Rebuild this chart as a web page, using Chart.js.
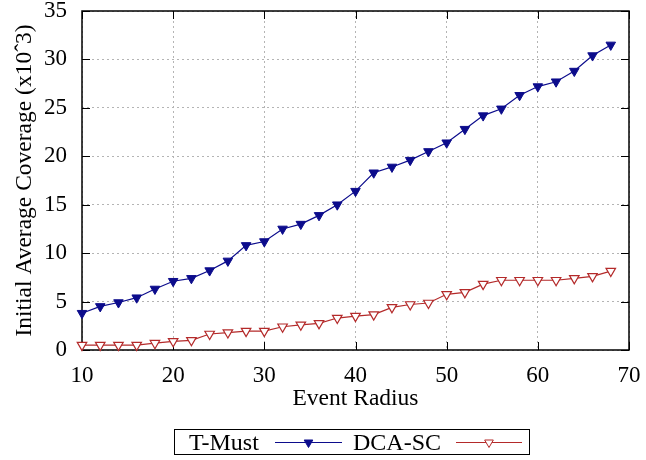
<!DOCTYPE html>
<html>
<head>
<meta charset="utf-8">
<script src="https://cdn.jsdelivr.net/npm/chart.js@4/dist/chart.umd.min.js"></script>
<style>
  html, body { margin: 0; padding: 0; background: #fff; }
  #wrap { width: 646px; height: 460px; }
</style>
</head>
<body>
<div id="wrap"><canvas id="c" width="646" height="460"></canvas></div>
<script>
const eventRadius = [10,12,14,16,18,20,22,24,26,28,30,32,34,36,38,40,42,44,46,48,50,52,54,56,58,60,62,64,66,68];
const tMust = [3.8,4.5,4.9,5.4,6.3,7.1,7.4,8.2,9.2,10.8,11.2,12.5,13.0,13.9,15.0,16.4,18.3,18.9,19.6,20.5,21.4,22.8,24.2,24.9,26.3,27.2,27.7,28.8,30.4,31.5];
const dcaSc = [0.5,0.5,0.5,0.5,0.7,0.9,1.0,1.65,1.8,1.95,1.95,2.4,2.6,2.75,3.3,3.5,3.65,4.4,4.7,4.85,5.75,5.95,6.8,7.2,7.2,7.2,7.2,7.4,7.6,8.15];
const xTicks = [10,20,30,40,50,60,70];
const yTicks = [0,5,10,15,20,25,30,35];
const seriesNames = ['T-Must','DCA-SC'];
const xTitle = 'Event Radius';
const yTitle = 'Initial Average Coverage (x10\u02C63)';

const FONT = '"Liberation Serif", "Times New Roman", serif';
const BLUE = '#0c0c8c';
const RED = '#b42a2a';

const framePlugin = {
  id: 'frame',
  beforeDatasetsDraw(chart) {
    const {ctx, chartArea: a, scales} = chart;
    ctx.save();
    ctx.strokeStyle = '#000';
    ctx.lineWidth = 1;
    const tl = 8;
    ctx.beginPath();
    xTicks.forEach(v => {
      const x = Math.round(scales.x.getPixelForValue(v)) + 0.5;
      ctx.moveTo(x, a.bottom); ctx.lineTo(x, a.bottom - tl);
      ctx.moveTo(x, a.top); ctx.lineTo(x, a.top + tl);
    });
    yTicks.forEach(v => {
      const y = Math.round(scales.y.getPixelForValue(v)) + 0.5;
      ctx.moveTo(a.left, y); ctx.lineTo(a.left + tl, y);
      ctx.moveTo(a.right, y); ctx.lineTo(a.right - tl, y);
    });
    ctx.stroke();
    ctx.lineWidth = 1.5;
    ctx.strokeRect(a.left, a.top, a.right - a.left, a.bottom - a.top);
    ctx.restore();
  },
  afterDraw(chart) {
    const ctx = chart.ctx;
    ctx.save();
    ctx.strokeStyle = '#000';
    ctx.lineWidth = 1;
    ctx.strokeRect(174.5, 429.5, 355, 25);
    ctx.font = '24px ' + FONT;
    ctx.textBaseline = 'alphabetic';
    ctx.textAlign = 'left';
    const ly = 442.5;
    const entries = [
      {text: seriesNames[0], tx: 189, l0: 275, l1: 342, ds: chart.data.datasets[0]},
      {text: seriesNames[1], tx: 353, l0: 456, l1: 522, ds: chart.data.datasets[1]}
    ];
    entries.forEach(e => {
      ctx.fillStyle = '#000';
      ctx.fillText(e.text, e.tx, 450);
      ctx.strokeStyle = e.ds.borderColor;
      ctx.lineWidth = 1.2;
      ctx.beginPath(); ctx.moveTo(e.l0, ly); ctx.lineTo(e.l1, ly); ctx.stroke();
      ctx.fillStyle = e.ds.pointBackgroundColor;
      ctx.strokeStyle = e.ds.pointBorderColor;
      ctx.lineWidth = 1;
      Chart.helpers.drawPoint(ctx, {
        pointStyle: 'triangle', rotation: 180, radius: 5, borderWidth: 1
      }, (e.l0 + e.l1) / 2, ly);
    });
    ctx.restore();
  }
};

new Chart(document.getElementById('c'), {
  type: 'line',
  data: {
    datasets: [
      {
        label: seriesNames[0],
        data: eventRadius.map((x, i) => ({x, y: tMust[i]})),
        borderColor: BLUE,
        backgroundColor: BLUE,
        pointBackgroundColor: BLUE,
        pointBorderColor: BLUE,
        borderWidth: 1.2,
        pointStyle: 'triangle',
        pointRotation: 180,
        pointRadius: 5.5,
        pointBorderWidth: 1,
        tension: 0,
        clip: false
      },
      {
        label: seriesNames[1],
        data: eventRadius.map((x, i) => ({x, y: dcaSc[i]})),
        borderColor: RED,
        backgroundColor: '#ffffff',
        pointBackgroundColor: '#ffffff',
        pointBorderColor: RED,
        borderWidth: 1.2,
        pointStyle: 'triangle',
        pointRotation: 180,
        pointRadius: 5.5,
        pointBorderWidth: 1.2,
        tension: 0,
        clip: false
      }
    ]
  },
  options: {
    responsive: false,
    animation: false,
    devicePixelRatio: 1,
    layout: { padding: { left: 0, right: 17, top: 11, bottom: 47 } },
    plugins: { legend: { display: false }, tooltip: { enabled: false } },
    scales: {
      x: {
        type: 'linear',
        min: 10, max: 70,
        afterBuildTicks(s) { s.ticks = xTicks.map(v => ({value: v})); },
        afterFit(s) { s.height = 63; s.paddingLeft = 0; s.paddingRight = 0; },
        border: { display: false, dash: [2, 3] },
        grid: { color: '#b4b4b4', lineWidth: 1, drawTicks: false },
        ticks: { color: '#000', font: { family: FONT, size: 23 }, padding: 12, maxRotation: 0 },
        title: { display: true, text: xTitle, color: '#000', font: { family: FONT, size: 23.5 }, padding: { top: 0, bottom: 0 } }
      },
      y: {
        type: 'linear',
        min: 0, max: 35,
        afterBuildTicks(s) { s.ticks = yTicks.map(v => ({value: v})); },
        afterFit(s) { s.width = 82; s.paddingTop = 0; s.paddingBottom = 0; },
        border: { display: false, dash: [2, 3] },
        grid: { color: '#b4b4b4', lineWidth: 1, drawTicks: false },
        ticks: { color: '#000', font: { family: FONT, size: 23 }, padding: 15 },
        title: { display: true, text: yTitle, color: '#000', font: { family: FONT, size: 23.5 }, padding: { top: 11, bottom: 0 } }
      }
    }
  },
  plugins: [framePlugin]
});
</script>
</body>
</html>
